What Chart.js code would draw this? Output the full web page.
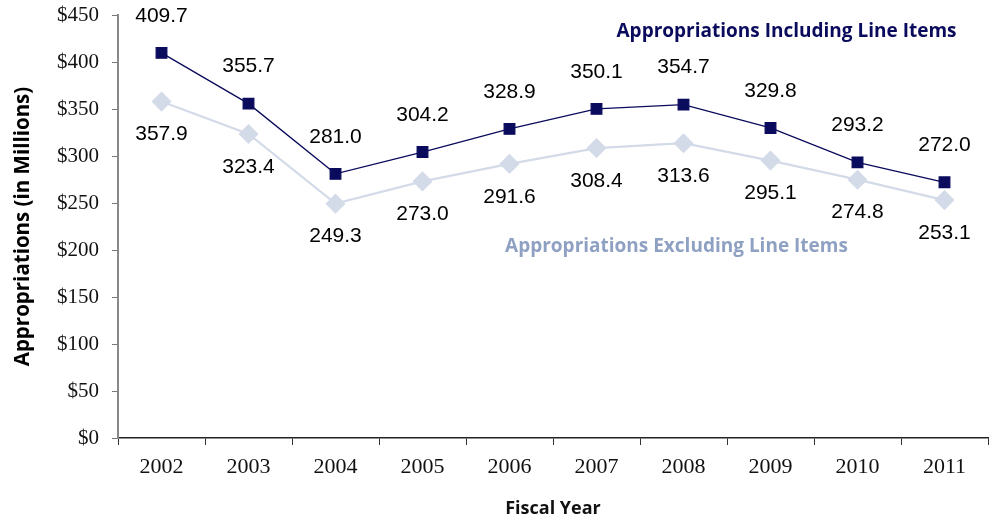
<!DOCTYPE html>
<html>
<head>
<meta charset="utf-8">
<script src="https://cdn.jsdelivr.net/npm/chart.js@4/dist/chart.umd.min.js"></script>
<style>
html,body{margin:0;padding:0;background:#fff;}
#wrap{width:989px;height:520px;position:relative;}
</style>
</head>
<body>
<div id="wrap"><canvas id="c" width="989" height="520"></canvas></div>
<script>
const years = ['2002','2003','2004','2005','2006','2007','2008','2009','2010','2011'];
const including = [409.7,355.7,281.0,304.2,328.9,350.1,354.7,329.8,293.2,272.0];
const excluding = [357.9,323.4,249.3,273.0,291.6,308.4,313.6,295.1,274.8,253.1];
const includingName = 'Appropriations Including Line Items';
const excludingName = 'Appropriations Excluding Line Items';

const darkColor = '#0b0b5e';
const lightColor = '#d3dae8';
const lightText = '#8fa1c3';

const labelPlugin = {
  id: 'labels',
  afterDatasetsDraw(chart) {
    const ctx = chart.ctx;
    ctx.save();
    ctx.font = '21px "Liberation Sans", Arial, sans-serif';
    ctx.fillStyle = '#000';
    ctx.textAlign = 'center';
    ctx.textBaseline = 'middle';
    chart.data.datasets.forEach((ds, i) => {
      const meta = chart.getDatasetMeta(i);
      meta.data.forEach((pt, j) => {
        const off = i === 0 ? -37 : 33;
        ctx.fillText(ds.data[j].toFixed(1), pt.x, pt.y + off);
      });
    });
    const xs = chart.scales.x, ys = chart.scales.y;
    ctx.font = 'bold 19px "Open Sans", Lato, sans-serif';
    ctx.fillStyle = darkColor;
    ctx.fillText(includingName, xs.getPixelForValue(7) + 16, ys.getPixelForValue(432));
    ctx.fillStyle = lightText;
    ctx.fillText(excludingName, xs.getPixelForValue(5) + 80, ys.getPixelForValue(204));
    ctx.restore();
  }
};

new Chart(document.getElementById('c'), {
  type: 'line',
  data: {
    labels: years,
    datasets: [
      {
        label: includingName,
        data: including,
        borderColor: darkColor,
        backgroundColor: darkColor,
        borderWidth: 1.3,
        pointStyle: 'rect',
        pointRadius: 7.5,
        pointHoverRadius: 7.5,
        tension: 0
      },
      {
        label: excludingName,
        data: excluding,
        borderColor: lightColor,
        backgroundColor: lightColor,
        borderWidth: 2.2,
        pointStyle: 'rectRot',
        pointRadius: 8.5,
        pointHoverRadius: 8.5,
        tension: 0
      }
    ]
  },
  options: {
    responsive: false,
    animation: false,
    layout: { autoPadding: false, padding: { top: 15, right: 1, left: 0, bottom: 0 } },
    plugins: { legend: { display: false }, tooltip: { enabled: false } },
    scales: {
      x: {
        offset: true,
        afterFit(s) { s.paddingLeft = 0; s.paddingRight = 0; },
        grid: { drawOnChartArea: false, drawTicks: true, tickLength: 7, offset: true, color: '#333' },
        border: { color: '#222', width: 1.5 },
        ticks: { color: '#111', font: { family: '"Liberation Serif", serif', size: 22 }, padding: 9, maxRotation: 0 },
        title: { display: true, text: 'Fiscal Year', color: '#111', font: { family: '"Open Sans", Lato, sans-serif', weight: 'bold', size: 18 }, padding: { top: 9, bottom: 0 } }
      },
      y: {
        min: 0, max: 450,
        afterFit(s) { s.width = 118; s.paddingTop = 0; s.paddingBottom = 0; },
        grid: { drawOnChartArea: false, drawTicks: true, tickLength: 6, color: '#777' },
        border: { color: '#888', width: 2 },
        ticks: { stepSize: 50, color: '#111', font: { family: '"Liberation Serif", serif', size: 21 }, padding: 13, callback: v => '$' + v },
        title: { display: true, text: 'Appropriations (in Millions)', color: '#000', font: { family: '"Open Sans", Lato, sans-serif', weight: 'bold', size: 20.5 }, padding: { top: 11, bottom: 4 } }
      }
    }
  },
  plugins: [labelPlugin]
});
</script>
</body>
</html>
